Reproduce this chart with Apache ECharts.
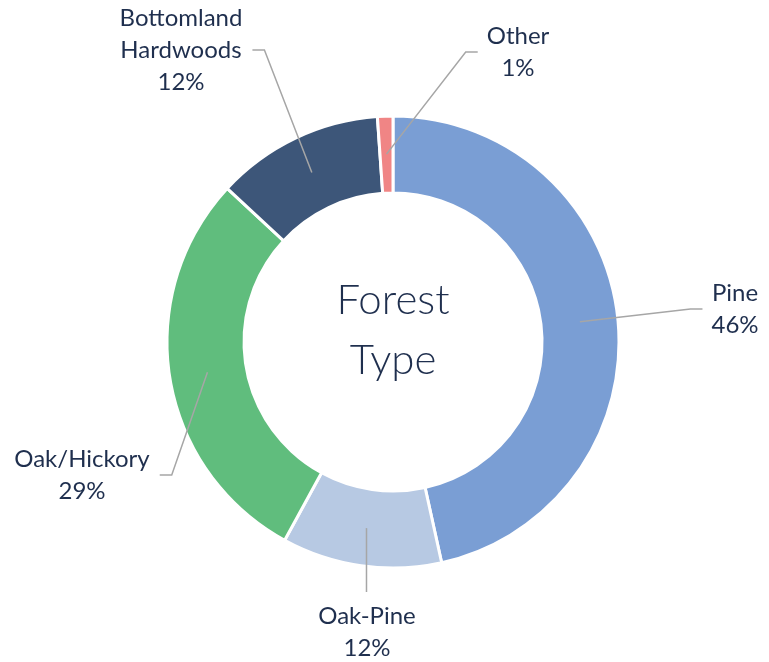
<!DOCTYPE html>
<html>
<head>
<meta charset="utf-8">
<script src="https://cdn.jsdelivr.net/npm/echarts@6/dist/echarts.min.js"></script>
<style>
html,body{margin:0;padding:0;background:#fff;}
#chart{width:769px;height:662px;}
</style>
</head>
<body>
<div id="chart"></div>
<script>
// ---- data ----
const categories = ['Pine', 'Oak-Pine', 'Oak/Hickory', 'Bottomland Hardwoods', 'Other'];
const labelNames = ['Pine', 'Oak-Pine', 'Oak/Hickory', 'Bottomland\nHardwoods', 'Other'];
const values = [46.5, 11.4, 28.9, 12.0, 1.1];
const percentLabels = [46, 12, 29, 12, 1];
const centerTitle = 'Forest\nType';

// ---- layout / style ----
const colors = ['#7A9ED4', '#B7C9E3', '#60BD7D', '#3D5679', '#F08585'];
const textColor = '#1F2F4E';
const cx = 393, cy = 342;
const lineR = 188;
// label block centres (layout)
const labelPos = [[735, 309], [367, 632], [82, 475], [181, 50], [518, 52]];

const total = values.reduce((a, b) => a + b, 0);
const midAngles = [];
let acc = 0;
values.forEach(v => { midAngles.push((acc + v / 2) / total * 2 * Math.PI); acc += v; });

const chart = echarts.init(document.getElementById('chart'), null, {renderer: 'canvas'});

const ringData = categories.map((c, i) => ({name: c, value: values[i], itemStyle: {color: colors[i]}}));
const labelData = categories.map((c, i) => ({name: c, value: values[i]}));

chart.setOption({
  animation: false,
  title: {
    text: centerTitle,
    left: cx,
    top: 270,
    textAlign: 'center',
    padding: 0,
    textStyle: {
      fontFamily: 'Lato', fontWeight: 300, fontSize: 42, lineHeight: 60, color: textColor
    }
  },
  series: [
    {
      type: 'pie',
      center: [cx, cy],
      radius: [149, 226],
      startAngle: 90,
      clockwise: true,
      silent: true,
      label: {show: false},
      labelLine: {show: false},
      itemStyle: {borderColor: '#ffffff', borderWidth: 3},
      data: ringData
    },
    {
      type: 'pie',
      center: [cx, cy],
      radius: [0, lineR],
      startAngle: 90,
      clockwise: true,
      silent: true,
      z: 5,
      avoidLabelOverlap: false,
      itemStyle: {color: 'rgba(0,0,0,0)'},
      label: {
        show: true,
        position: 'outside',
        fontFamily: 'Lato',
        fontSize: 24,
        lineHeight: 32,
        color: textColor,
        align: 'center',
        formatter: p => labelNames[p.dataIndex] + '\n' + percentLabels[p.dataIndex] + '%'
      },
      labelLine: {show: true, lineStyle: {color: '#A6A6A6', width: 1.5}},
      labelLayout: function (params) {
        const i = params.dataIndex;
        const w = params.labelRect.width, h = params.labelRect.height;
        const lx = labelPos[i][0], ly = labelPos[i][1];
        const a = midAngles[i];
        const sx = cx + lineR * Math.sin(a), sy = cy - lineR * Math.cos(a);
        let pts;
        if (Math.abs(lx - sx) < 4) {
          // label directly below / above
          const ey = ly > sy ? ly - h / 2 - 8 : ly + h / 2 + 8;
          pts = [[sx, sy], [sx, ey]];
        } else if (lx > sx) {
          const ex = lx - w / 2 - 9;
          pts = [[sx, sy], [ex - 12, ly], [ex, ly]];
        } else {
          const ex = lx + w / 2 + 10;
          pts = [[sx, sy], [ex + 12, ly], [ex, ly]];
        }
        return {
          x: lx, y: ly, align: 'center', verticalAlign: 'middle',
          labelLinePoints: pts
        };
      },
      data: labelData
    }
  ]
});
</script>
</body>
</html>
